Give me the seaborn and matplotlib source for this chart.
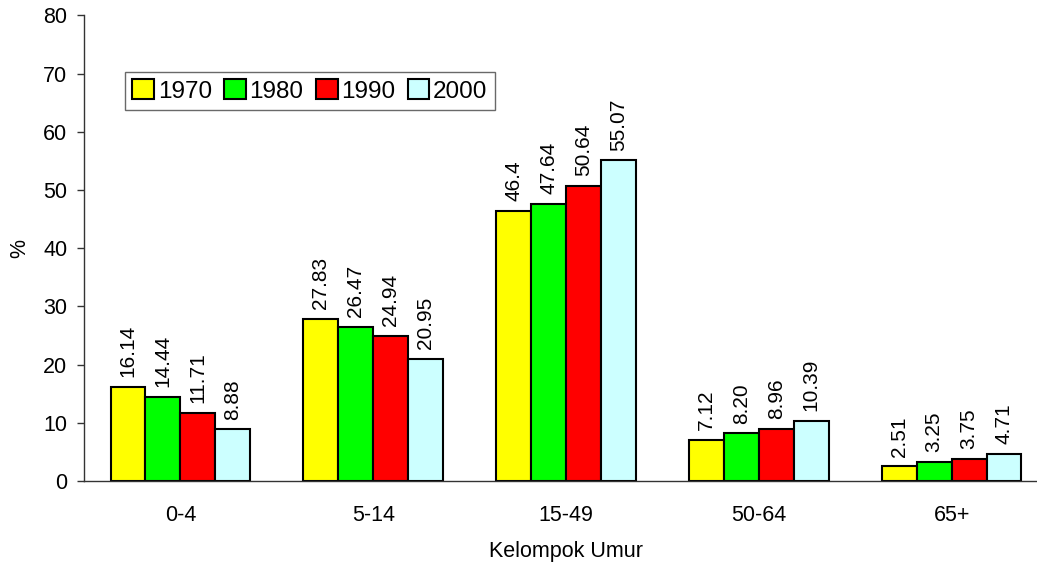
import matplotlib
matplotlib.use("Agg")
import matplotlib.pyplot as plt
import seaborn as sns
import pandas as pd

# Data
kelompok = ["0-4", "5-14", "15-49", "50-64", "65+"]
tahun = ["1970", "1980", "1990", "2000"]
v1970 = [16.14, 27.83, 46.4, 7.12, 2.51]
v1980 = [14.44, 26.47, 47.64, 8.20, 3.25]
v1990 = [11.71, 24.94, 50.64, 8.96, 3.75]
v2000 = [8.88, 20.95, 55.07, 10.39, 4.71]
label_1970 = ["16.14", "27.83", "46.4", "7.12", "2.51"]
label_1980 = ["14.44", "26.47", "47.64", "8.20", "3.25"]
label_1990 = ["11.71", "24.94", "50.64", "8.96", "3.75"]
label_2000 = ["8.88", "20.95", "55.07", "10.39", "4.71"]
warna = ["#FFFF00", "#00FF00", "#FF0000", "#CCFFFF"]

rows = []
for th, vals in zip(tahun, [v1970, v1980, v1990, v2000]):
    for k, v in zip(kelompok, vals):
        rows.append({"Kelompok Umur": k, "Tahun": th, "Persen": v})
df = pd.DataFrame(rows)

sns.set_style("white")
plt.rcParams["font.family"] = ["Liberation Sans", "DejaVu Sans"]
plt.rcParams["text.color"] = "black"
plt.rcParams["axes.labelcolor"] = "black"
plt.rcParams["xtick.color"] = "black"
plt.rcParams["ytick.color"] = "black"

fig = plt.figure(figsize=(10.37, 5.62), dpi=100)
# axis runs past the right edge like the original (cropped)
ax = fig.add_axes([84 / 1037, (562 - 481) / 562, 964 / 1037, (481 - 15.3) / 562])

sns.barplot(data=df, x="Kelompok Umur", y="Persen", hue="Tahun",
            palette=warna, width=0.725, edgecolor="black", linewidth=1.5,
            saturation=1, ax=ax, legend=True)

for cont, labs in zip(ax.containers, [label_1970, label_1980, label_1990, label_2000]):
    ax.bar_label(cont, labels=labs, rotation=90, padding=7, fontsize=15, color="black")

ax.set_ylim(0, 80)
ax.set_xlim(-0.5, 4.5)
ax.set_yticks(range(0, 81, 10))
ax.set_xticks(range(5))
ax.set_xticklabels(kelompok)
ax.set_xticks([-0.5, 0.5, 1.5, 2.5, 3.5], minor=True)
ax.tick_params(axis="x", which="major", length=0, labelsize=15.5, pad=17)
ax.tick_params(axis="x", which="minor", length=5, direction="out", width=1, color="#333333")
ax.tick_params(axis="y", length=5, direction="out", width=1, labelsize=15.5, pad=7,
               color="#333333", left=True)

for s in ["top", "right"]:
    ax.spines[s].set_visible(False)
for s in ["left", "bottom"]:
    ax.spines[s].set_color("#333333")
    ax.spines[s].set_linewidth(1)

ax.set_xlabel("Kelompok Umur", fontsize=15.5, labelpad=11)
ax.set_ylabel("%", fontsize=15.5, labelpad=9)

leg = ax.legend(loc="upper left", bbox_to_anchor=(125 / 1037, 1 - 72 / 562),
                bbox_transform=fig.transFigure, ncol=4, fontsize=17.5,
                frameon=True, fancybox=False, handlelength=0.9, handleheight=0.9,
                handletextpad=0.15, columnspacing=0.5, borderpad=0.3,
                borderaxespad=0)
leg.get_frame().set_edgecolor("#444444")
leg.get_frame().set_linewidth(1)
leg.get_frame().set_boxstyle("square", pad=0)

fig.savefig("out.png", dpi=100)
